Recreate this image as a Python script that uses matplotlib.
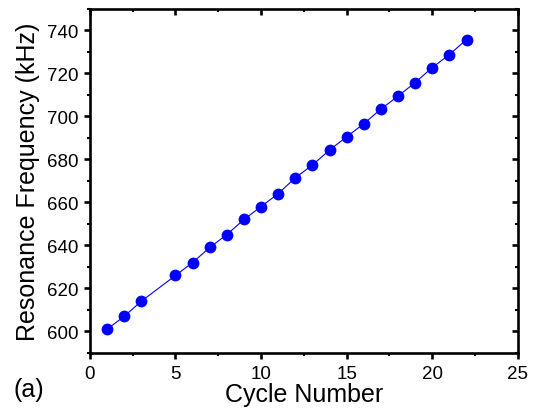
import matplotlib
matplotlib.use('Agg')
import matplotlib.pyplot as plt
from matplotlib.ticker import MultipleLocator

# cycle number vs resonance frequency (kHz)
cycles = [1, 2, 3, 5, 6, 7, 8, 9, 10, 11, 12, 13, 14, 15, 16, 17, 18, 19, 20, 21, 22]
freq_khz = [601, 607, 614, 626, 632, 639, 645, 652, 658, 664, 671.4, 677.3, 684.3,
            690.4, 696.5, 703.3, 709.3, 715.6, 722.6, 728.6, 735.6]

plt.rcParams['font.family'] = ['Liberation Sans', 'DejaVu Sans']

fig = plt.figure(figsize=(5.35, 4.14), dpi=100)
ax = fig.add_axes([0.168, 0.145, 0.8, 0.832])

ax.plot(cycles, freq_khz, color='#0000ff', linewidth=0.8, marker='o',
        markersize=8.5, markeredgewidth=0)

ax.set_xlim(0, 25)
ax.set_ylim(590, 750)
ax.xaxis.set_major_locator(MultipleLocator(5))
ax.xaxis.set_minor_locator(MultipleLocator(2.5))
ax.yaxis.set_major_locator(MultipleLocator(20))
ax.yaxis.set_minor_locator(MultipleLocator(10))

for s in ax.spines.values():
    s.set_linewidth(1.9)

ax.tick_params(which='major', direction='out', length=4.5, width=1.9,
               labelsize=13.5, pad=4)
ax.tick_params(which='minor', direction='out', length=2.5, width=1.5)
# mirrored ticks on top/right point inward
ax.tick_params(which='both', top=True, right=True)
for t in ax.xaxis.get_major_ticks() + ax.xaxis.get_minor_ticks():
    t.tick2line.set_marker(3)  # TICKDOWN
for t in ax.yaxis.get_major_ticks() + ax.yaxis.get_minor_ticks():
    t.tick2line.set_marker(0)  # TICKLEFT

ax.set_xlabel('Cycle Number', fontsize=18, labelpad=0)
ax.set_ylabel('Resonance Frequency (kHz)', fontsize=18, labelpad=5)
fig.text(0.026, 0.04, '(a)', fontsize=18)

plt.savefig('out.png', dpi=100)
plt.close()
